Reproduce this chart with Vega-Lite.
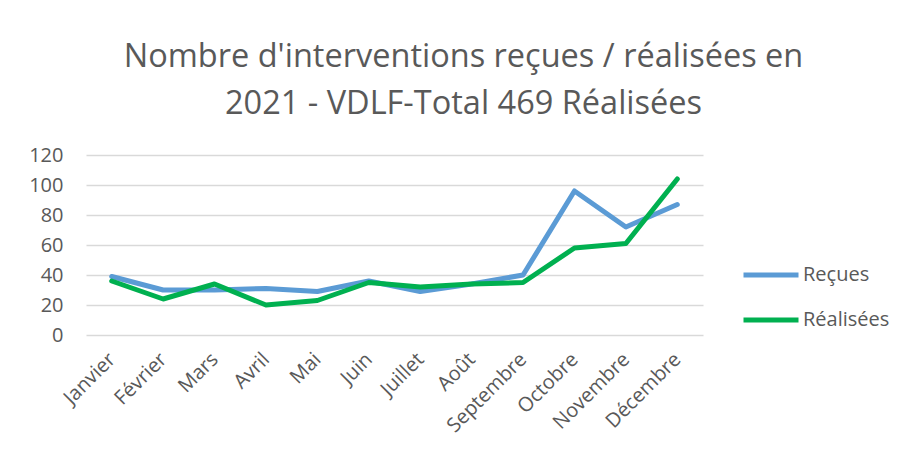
{
  "$schema": "https://vega.github.io/schema/vega-lite/v6.json",
  "width": 617,
  "height": 180,
  "autosize": {"type": "none"},
  "padding": {"left": 86, "top": 155, "right": 206, "bottom": 122},
  "background": "white",
  "title": {
    "text": ["Nombre d'interventions reçues / réalisées en", "2021 - VDLF-Total 469 Réalisées"],
    "anchor": "middle",
    "frame": "group",
    "dx": 69,
    "offset": 25,
    "font": "Open Sans",
    "fontSize": 32.5,
    "fontWeight": "normal",
    "color": "#595959",
    "lineHeight": 47
  },
  "data": {
    "values": [
      {"mois": "Janvier", "serie": "Reçues", "valeur": 39},
      {"mois": "Février", "serie": "Reçues", "valeur": 30},
      {"mois": "Mars", "serie": "Reçues", "valeur": 30},
      {"mois": "Avril", "serie": "Reçues", "valeur": 31},
      {"mois": "Mai", "serie": "Reçues", "valeur": 29},
      {"mois": "Juin", "serie": "Reçues", "valeur": 36},
      {"mois": "Juillet", "serie": "Reçues", "valeur": 29},
      {"mois": "Août", "serie": "Reçues", "valeur": 34},
      {"mois": "Septembre", "serie": "Reçues", "valeur": 40},
      {"mois": "Octobre", "serie": "Reçues", "valeur": 96},
      {"mois": "Novembre", "serie": "Reçues", "valeur": 72},
      {"mois": "Décembre", "serie": "Reçues", "valeur": 87},
      {"mois": "Janvier", "serie": "Réalisées", "valeur": 36},
      {"mois": "Février", "serie": "Réalisées", "valeur": 24},
      {"mois": "Mars", "serie": "Réalisées", "valeur": 34},
      {"mois": "Avril", "serie": "Réalisées", "valeur": 20},
      {"mois": "Mai", "serie": "Réalisées", "valeur": 23},
      {"mois": "Juin", "serie": "Réalisées", "valeur": 35},
      {"mois": "Juillet", "serie": "Réalisées", "valeur": 32},
      {"mois": "Août", "serie": "Réalisées", "valeur": 34},
      {"mois": "Septembre", "serie": "Réalisées", "valeur": 35},
      {"mois": "Octobre", "serie": "Réalisées", "valeur": 58},
      {"mois": "Novembre", "serie": "Réalisées", "valeur": 61},
      {"mois": "Décembre", "serie": "Réalisées", "valeur": 104}
    ]
  },
  "mark": {"type": "line", "strokeWidth": 5, "strokeCap": "round", "strokeJoin": "round"},
  "encoding": {
    "x": {
      "field": "mois",
      "type": "nominal",
      "sort": ["Janvier", "Février", "Mars", "Avril", "Mai", "Juin", "Juillet", "Août", "Septembre", "Octobre", "Novembre", "Décembre"],
      "scale": {"type": "point", "padding": 0.5},
      "axis": {
        "title": null,
        "labelAngle": -45,
        "labelAlign": "right",
        "labelBaseline": "middle",
        "labelPadding": 21,
        "ticks": false,
        "domain": false,
        "grid": false,
        "labelFont": "Open Sans",
        "labelFontSize": 20,
        "labelColor": "#595959"
      }
    },
    "y": {
      "field": "valeur",
      "type": "quantitative",
      "scale": {"domain": [0, 120], "nice": false},
      "axis": {
        "title": null,
        "values": [0, 20, 40, 60, 80, 100, 120],
        "ticks": false,
        "domain": false,
        "labelPadding": 23,
        "labelFont": "Open Sans",
        "labelFontSize": 20,
        "labelColor": "#595959",
        "gridColor": "#D9D9D9",
        "gridWidth": 1.5
      }
    },
    "color": {
      "field": "serie",
      "type": "nominal",
      "scale": {"domain": ["Reçues", "Réalisées"], "range": ["#5B9BD5", "#00B050"]},
      "legend": {
        "title": null,
        "orient": "none",
        "legendX": 655,
        "legendY": 90,
        "symbolType": "stroke",
        "symbolSize": 3025,
        "symbolStrokeWidth": 5,
        "labelFont": "Open Sans",
        "labelFontSize": 20,
        "labelColor": "#595959",
        "labelOffset": 2,
        "rowPadding": 5
      }
    }
  },
  "config": {"view": {"stroke": null}}
}
